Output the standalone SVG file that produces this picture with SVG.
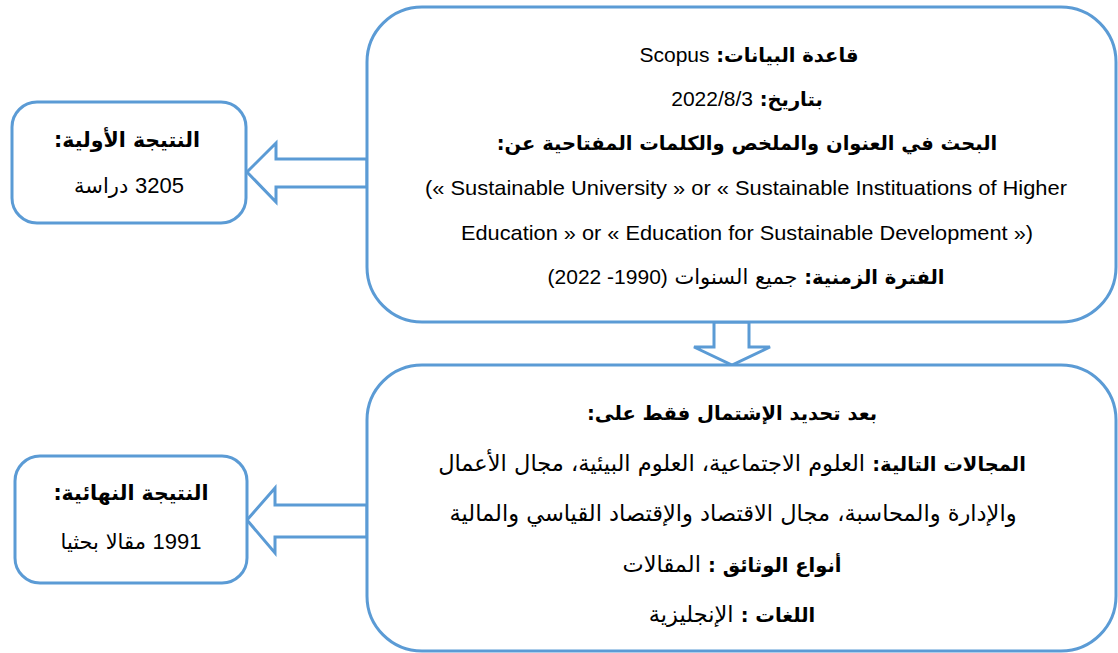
<svg xmlns="http://www.w3.org/2000/svg" width="1118" height="653" viewBox="0 0 1118 653">
<style>
.box{fill:#fff;stroke:#5B9BD5;stroke-width:3}
.arr{fill:#fff;stroke:#5B9BD5;stroke-width:3;stroke-linejoin:miter}
.ar{font-family:"DejaVu Sans",sans-serif;font-size:21px;fill:#000}
.en{font-family:"Liberation Sans",sans-serif;font-size:21px;fill:#000}
.b{font-weight:bold;font-size:19.5px}
.w{font-size:22.5px}
</style>
<rect width="1118" height="653" fill="#fff"/>
<g id="connectors">
<polygon class="arr" points="367,159 276,159 276,143 247,172 276,202 276,187 367,187"/>
<polygon class="arr" points="367,505 275,505 275,488 247,520 275,553 275,537 367,537"/>
<polygon class="arr" points="714,322 714,347 694,347 732,365 770,347 749,347 749,322"/>
</g>
<g id="search">
<rect class="box" x="367" y="7" width="749" height="315" rx="55" ry="55"/>
<text class="ar" x="749" y="62" text-anchor="middle" direction="rtl"><tspan class="b">قاعدة البيانات:</tspan> <tspan class="en">Scopus</tspan></text>
<text class="ar" x="747" y="106" text-anchor="middle" direction="rtl"><tspan class="b">بتاريخ:</tspan> <tspan class="en">2022/8/3</tspan></text>
<text class="ar b" x="747" y="150" text-anchor="middle" direction="rtl">البحث في العنوان والملخص والكلمات المفتاحية عن:</text>
<text class="en" x="746" y="195" text-anchor="middle" direction="ltr" textLength="642" lengthAdjust="spacingAndGlyphs">(« Sustainable University » or « Sustainable Instituations of Higher</text>
<text class="en" x="747" y="240" text-anchor="middle" direction="ltr" textLength="572" lengthAdjust="spacingAndGlyphs">Education » or « Education for Sustainable Development »)</text>
<text class="ar" x="746" y="284" text-anchor="middle" direction="rtl"><tspan class="b">الفترة الزمنية:</tspan> جميع السنوات <tspan class="en">(1990- 2022)</tspan></text>
</g>
<g id="initial">
<rect class="box" x="12" y="102" width="234" height="121" rx="25" ry="25"/>
<text class="ar b" x="127" y="147" text-anchor="middle" direction="rtl" style="font-size:20.5px">النتيجة الأولية:</text>
<text class="ar" x="129" y="193" text-anchor="middle" direction="rtl"><tspan class="en" style="font-size:22px">3205</tspan> دراسة</text>
</g>
<g id="filters">
<rect class="box" x="367" y="365" width="749" height="286" rx="55" ry="55"/>
<text class="ar b" x="732" y="420" text-anchor="middle" direction="rtl">بعد تحديد الإشتمال فقط على:</text>
<text class="ar w" x="732" y="471" text-anchor="middle" direction="rtl"><tspan class="b">المجالات التالية:</tspan> العلوم الاجتماعية، العلوم البيئية، مجال الأعمال</text>
<text class="ar w" x="733" y="521" text-anchor="middle" direction="rtl">والإدارة والمحاسبة، مجال الاقتصاد والإقتصاد القياسي والمالية</text>
<text class="ar w" x="732" y="572" text-anchor="middle" direction="rtl"><tspan class="b">أنواع الوثائق :</tspan> المقالات</text>
<text class="ar w" x="732" y="622" text-anchor="middle" direction="rtl"><tspan class="b">اللغات :</tspan> الإنجليزية</text>
</g>
<g id="final">
<rect class="box" x="15" y="456" width="232" height="127" rx="25" ry="25"/>
<text class="ar b" x="131" y="500" text-anchor="middle" direction="rtl" style="font-size:20.5px">النتيجة النهائية:</text>
<text class="ar" x="131" y="549" text-anchor="middle" direction="rtl"><tspan class="en" style="font-size:22px">1991</tspan> مقالا بحثيا</text>
</g>
</svg>
